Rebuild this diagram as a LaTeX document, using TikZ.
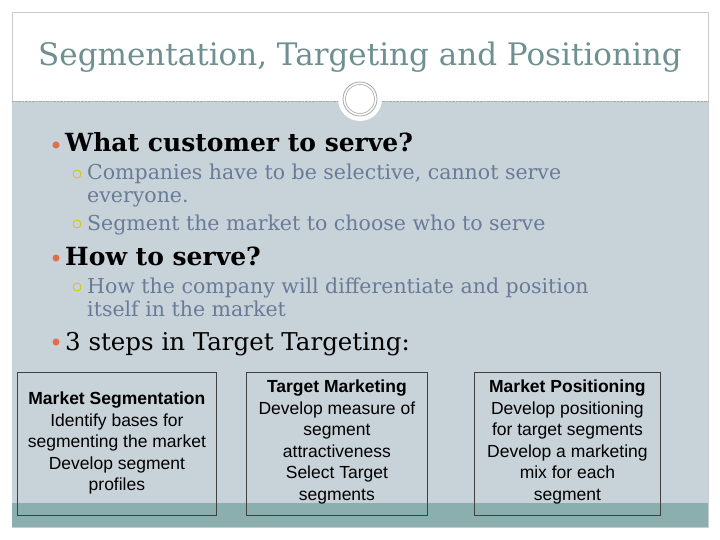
\documentclass[tikz,border=0pt]{standalone}
\usepackage{fontspec}
\setmainfont{DejaVu Serif}
\setsansfont{Liberation Sans}
\definecolor{bgc}{HTML}{C8D2D9}
\definecolor{teal}{HTML}{8BAEAE}
\definecolor{titlec}{HTML}{6F9090}
\definecolor{subc}{HTML}{6A7B98}
\definecolor{dotc}{HTML}{E36C4A}
\begin{document}
\begin{tikzpicture}[x=1pt,y=-1pt,
  boxst/.style={draw=black!75,line width=0.8pt,inner sep=0pt,anchor=north west},
  boxtxt/.style={anchor=north,align=center,font=\sffamily\fontsize{17.5}{21.5}\selectfont,inner sep=0pt},
  head/.style={anchor=base west,font=\bfseries\fontsize{25}{26}\selectfont,inner sep=0pt},
  subt/.style={anchor=base west,text=subc,font=\fontsize{20.5}{21}\selectfont,inner sep=0pt},
  bul/.style={circle,fill=dotc,inner sep=0pt,minimum size=7pt},
  sbul/.style={circle,draw=yellow!60!olive,line width=0.8pt,inner sep=0pt,minimum size=8pt}]
\useasboundingbox (0,0) rectangle (720,540);
\fill[white] (0,0) rectangle (720,540);
\draw[gray!40] (12,12) rectangle (708,527);
\fill[bgc] (12,101) rectangle (708,503);
\fill[teal] (12,503) rectangle (708,527);
\draw[gray!70,densely dotted] (12,101) -- (708,101);
\node[circle,fill=white,minimum size=44pt,inner sep=0pt] (ring) at (360,99) {};
\draw[gray!70,line width=0.8pt] (360,99) circle (17);
\draw[gray!70,line width=0.6pt] (360,99) circle (14.5);
\node[anchor=base,text=titlec,font=\fontsize{31}{36}\selectfont,inner sep=0pt] (title) at (360,66) {Segmentation, Targeting and Positioning};
\node[bul] (b1) at (56,145) {};
\node[head] (h1) at (65,152) {What customer to serve?};
\node[sbul] (s1) at (77,174) {};
\node[subt] (t1) at (87,180) {Companies have to be selective, cannot serve};
\node[subt] (t1b) at (87,203) {everyone.};
\node[sbul] (s2) at (77,224) {};
\node[subt] (t2) at (87,230) {Segment the market to choose who to serve};
\node[bul] (b2) at (56,258) {};
\node[head] (h2) at (65,265) {How to serve?};
\node[sbul] (s3) at (77,287) {};
\node[subt] (t3) at (87,293) {How the company will differentiate and position};
\node[subt] (t3b) at (87,316) {itself in the market};
\node[bul] (b3) at (56,342) {};
\node[anchor=base west,font=\fontsize{24.5}{26}\selectfont,inner sep=0pt] (h3) at (65,350) {3 steps in Target Targeting:};
\node[boxst,minimum width=199pt,minimum height=143pt] (m1) at (17,372) {};
\node[boxst,minimum width=181pt,minimum height=143pt] (m2) at (246,372) {};
\node[boxst,minimum width=186pt,minimum height=143pt] (m3) at (474,372) {};
\node[boxtxt] (x1) at ([yshift=-20pt]m1.north) {\textbf{Market Segmentation}\\Identify bases for\\segmenting the market\\Develop segment\\profiles};
\node[boxtxt] (x2) at ([yshift=-8pt]m2.north) {\textbf{Target Marketing}\\Develop measure of\\segment\\attractiveness\\Select Target\\segments};
\node[boxtxt] (x3) at ([yshift=-8pt]m3.north) {\textbf{Market Positioning}\\Develop positioning\\for target segments\\Develop a marketing\\mix for each\\segment};
\end{tikzpicture}
\end{document}
